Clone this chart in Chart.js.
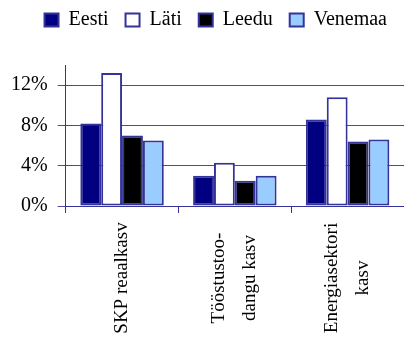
<!DOCTYPE html>
<html>
<head>
<meta charset="utf-8">
<script src="https://cdn.jsdelivr.net/npm/chart.js@4"></script>
<style>
  html, body { margin: 0; padding: 0; background: #fff; overflow: hidden; }
  #wrap { width: 404px; height: 360px; position: relative; }
</style>
</head>
<body>
<div id="wrap"><canvas id="c"></canvas></div>
<script>
// Growth indicators by country (%)
const categories = [
  ['SKP reaalkasv'],
  ['Tööstustoo-', 'dangu kasv'],
  ['Energiasektori', 'kasv']
];
const eesti   = [8.2, 3.0, 8.6];
const lati    = [13.2, 4.3, 10.8];
const leedu   = [7.0, 2.5, 6.4];
const venemaa = [6.5, 3.0, 6.6];
const yTicks  = [0, 4, 8, 12];

const FONT = '"Liberation Serif", "Times New Roman", serif';
const EDGE = '#333399';

// Category labels: vertical text, lines stacked side by side and centred on each category
const categoryLabels = {
  id: 'categoryLabels',
  afterDraw(chart) {
    const xs = chart.scales.x;
    const ctx = chart.ctx;
    const yMid = 278, gap = 31;
    ctx.save();
    ctx.font = '19px ' + FONT;
    ctx.fillStyle = '#000';
    ctx.textAlign = 'center';
    ctx.textBaseline = 'middle';
    categories.forEach((lines, i) => {
      const cx = xs.getPixelForValue(i);
      lines.forEach((t, j) => {
        const x = cx + (j - (lines.length - 1) / 2) * gap;
        ctx.save();
        ctx.translate(x, yMid);
        ctx.rotate(-Math.PI / 2);
        ctx.fillText(t, 0, 0);
        ctx.restore();
      });
    });
    ctx.restore();
  }
};

// Extra room between the legend row and the plot
const legendSpacer = {
  id: 'legendSpacer',
  beforeInit(chart) {
    const fit = chart.legend.fit;
    chart.legend.fit = function () {
      fit.call(this);
      this.height += 25;
    };
  }
};

const mk = (label, data, fill) => ({
  label, data,
  backgroundColor: fill,
  borderColor: EDGE,
  borderWidth: 2,
  borderSkipped: false,
  categoryPercentage: 0.74,
  barPercentage: 1.0
});

new Chart(document.getElementById('c'), {
  type: 'bar',
  data: {
    labels: categories.map(l => l.join(' ')),
    datasets: [
      mk('Eesti', eesti, '#000080'),
      mk('Läti', lati, '#ffffff'),
      mk('Leedu', leedu, '#000000'),
      mk('Venemaa', venemaa, '#99ccff')
    ]
  },
  options: {
    responsive: true,
    maintainAspectRatio: false,
    animation: false,
    layout: { padding: { left: 1, right: 0, top: -7, bottom: 147 } },
    plugins: {
      tooltip: { enabled: false },
      legend: {
        position: 'top',
        align: 'end',
        labels: {
          font: { family: FONT, size: 20 },
          color: '#000',
          boxWidth: 14,
          boxHeight: 13,
          padding: 17
        }
      }
    },
    scales: {
      x: {
        grid: {
          drawOnChartArea: false,
          drawTicks: true,
          tickLength: 7,
          tickColor: EDGE,
          offset: true
        },
        border: { display: true, color: EDGE, width: 1 },
        ticks: { display: false }
      },
      y: {
        min: 0,
        max: 14,
        afterBuildTicks(scale) {
          scale.ticks = yTicks.map(v => ({ value: v }));
        },
        grid: {
          color: '#4a4aa0',
          lineWidth: 1,
          tickLength: 8,
          tickColor: '#4a4aa0'
        },
        border: { display: true, color: EDGE, width: 1 },
        ticks: {
          padding: 10,
          color: '#000',
          font: { family: FONT, size: 20 },
          callback: v => v + '%'
        }
      }
    }
  },
  plugins: [categoryLabels, legendSpacer]
});
</script>
</body>
</html>
